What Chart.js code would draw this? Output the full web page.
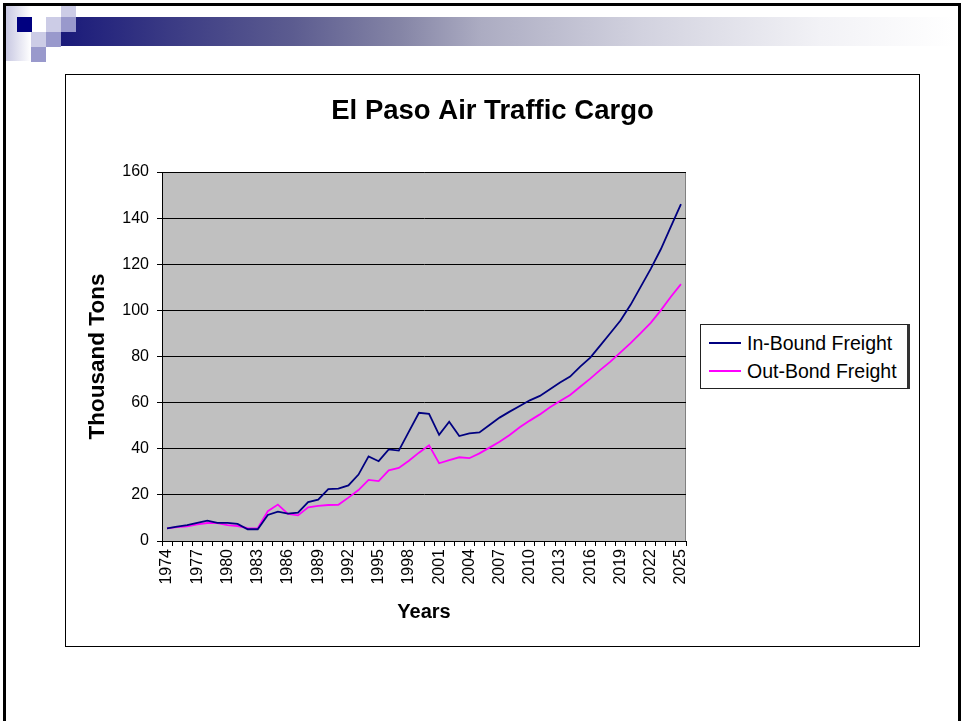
<!DOCTYPE html>
<html>
<head>
<meta charset="utf-8">
<script src="https://cdn.jsdelivr.net/npm/chart.js@4.4.1/dist/chart.umd.min.js"></script>
<style>
  body { margin: 0; width: 961px; height: 721px; background: #fff; overflow: hidden; position: relative; font-family: "Liberation Sans", Arial, sans-serif; }
  .frame { position: absolute; left: 3px; top: 3px; width: 952px; height: 730px; border: 3px solid #000; border-bottom: none; }
  .strip { position: absolute; left: 6px; top: 6px; width: 25px; height: 55px; background: linear-gradient(to right, #c8c8e2, #fff); }
  .bar { position: absolute; left: 61px; top: 17px; width: 894px; height: 29px;
         background: linear-gradient(to right, #1a1a7a 0%, #3a3a84 12%, #5c5c90 26%, #8585a6 38%, #acacc2 47%, #d2d2df 65%, #f2f2f6 85%, #fff 100%); }
  .sq { position: absolute; width: 15px; height: 15px; }
  .box { position: absolute; left: 65px; top: 74px; width: 853px; height: 571px; border: 1px solid #000; }
  canvas { position: absolute; left: 66px; top: 75px; }
  .legend { position: absolute; left: 700px; top: 324px; width: 206px; height: 63px; border: 1px solid #222; border-right: 3px solid #333; background: #fff; }
  .legend div { position: absolute; left: 8px; height: 22px; font-size: 19.5px; line-height: 22px; color: #000; white-space: nowrap; }
  .legend span { display: inline-block; width: 32px; height: 0; border-top: 2px solid; vertical-align: middle; margin-right: 6px; position: relative; top: -2px; }
</style>
</head>
<body>
<div class="frame"></div>
<div class="strip"></div>
<div class="bar"></div>
<div class="sq" style="left:17px;top:17px;background:#000080"></div>
<div class="sq" style="left:46px;top:17px;background:#ccccE6"></div>
<div class="sq" style="left:61px;top:6px;height:11px;background:#ccccE6"></div>
<div class="sq" style="left:61px;top:17px;background:#9999cc"></div>
<div class="sq" style="left:31px;top:32px;background:#ccccE6"></div>
<div class="sq" style="left:46px;top:32px;background:#9999cc"></div>
<div class="sq" style="left:31px;top:47px;background:#9999cc"></div>
<div class="box"></div>
<canvas id="grafico" width="853" height="571"></canvas>
<div class="legend" id="legenda"></div>
<script>
// anos e valores (mil toneladas)
const anos = [];
for (let a = 1974; a <= 2025; a++) anos.push(String(a));

const entrada = [
  5.5, 6.2, 6.9, 7.9, 8.8, 7.9, 7.9, 7.4, 5.1, 5.1,
  11.3, 12.7, 11.9, 12.3, 16.9, 17.9, 22.5, 22.7, 24.1, 28.8,
  36.7, 34.6, 39.7, 39.2, 47.4, 55.6, 55.1, 46.0, 51.7, 45.5,
  46.7, 47.1, 50.3, 53.5, 56.1, 58.5, 61.0, 62.9, 65.8, 68.7,
  71.3, 75.6, 79.5, 84.8, 90.2, 95.6, 102.4, 110.2, 118.0, 126.5,
  136.3, 146.1
];
const saida = [
  5.5, 6.0, 6.3, 7.2, 7.8, 7.8, 6.9, 6.5, 5.6, 5.5,
  12.9, 15.8, 11.7, 11.1, 14.6, 15.2, 15.6, 15.7, 18.8, 22.1,
  26.5, 26.0, 30.6, 31.7, 34.8, 38.3, 41.5, 33.7, 35.1, 36.3,
  35.9, 38.0, 40.5, 43.0, 46.0, 49.3, 52.2, 54.9, 58.0, 60.7,
  63.3, 66.9, 70.4, 74.2, 77.8, 81.8, 85.8, 90.1, 94.6, 100.0,
  105.9, 111.4
];
const rotulos = ['In-Bound Freight', 'Out-Bond Freight'];
const cores = ['#000080', '#ff00ff'];
const ticksY = [0, 20, 40, 60, 80, 100, 120, 140, 160];

const fonte = '"Liberation Sans", Arial, sans-serif';

// fundo cinza da area do grafico
const fundoPlot = {
  id: 'fundoPlot',
  beforeDraw(chart) {
    const { ctx, chartArea: a } = chart;
    ctx.save();
    ctx.fillStyle = '#c0c0c0';
    ctx.fillRect(a.left, a.top, a.right - a.left, a.bottom - a.top);
    ctx.strokeStyle = '#808080';
    ctx.lineWidth = 1;
    ctx.strokeRect(a.left + 0.5, a.top + 0.5, a.right - a.left - 1, a.bottom - a.top);
    ctx.restore();
  }
};

const chart = new Chart(document.getElementById('grafico'), {
  type: 'line',
  data: {
    labels: anos,
    datasets: [
      { label: rotulos[0], data: entrada, borderColor: cores[0], borderWidth: 1.8, pointRadius: 0, tension: 0 },
      { label: rotulos[1], data: saida, borderColor: cores[1], borderWidth: 1.8, pointRadius: 0, tension: 0 }
    ]
  },
  options: {
    responsive: false,
    animation: false,
    devicePixelRatio: 1,
    layout: { padding: 0 },
    plugins: {
      legend: { display: false },
      tooltip: { enabled: false },
      title: {
        display: true,
        text: 'El Paso Air Traffic Cargo',
        color: '#000',
        font: { family: fonte, size: 27.5, weight: 'bold' },
        padding: { top: 20, bottom: 44 }
      }
    },
    scales: {
      x: {
        offset: true,
        grid: { offset: true, drawOnChartArea: false, drawTicks: true, tickLength: 5, color: '#000' },
        border: { color: '#000', width: 1 },
        ticks: {
          autoSkip: false, maxRotation: 90, minRotation: 90, padding: 3, color: '#000',
          font: { family: fonte, size: 16 },
          callback: (v, i) => (i % 3 === 0 ? anos[i] : '')
        },
        title: { display: true, text: 'Years', color: '#000', font: { family: fonte, size: 20, weight: 'bold' }, padding: { top: 0, bottom: 22 } },
        afterFit(s) { s.height = 105; }
      },
      y: {
        min: 0, max: 160,
        grid: { color: '#000', lineWidth: 1, tickLength: 5 },
        border: { color: '#000', width: 1 },
        afterBuildTicks(s) { s.ticks = ticksY.map(v => ({ value: v })); },
        ticks: { padding: 8, color: '#000', font: { family: fonte, size: 16 } },
        title: { display: true, text: 'Thousand Tons', color: '#000', font: { family: fonte, size: 22.5, weight: 'bold' }, padding: { top: 18, bottom: 0 } },
        afterFit(s) { s.width = 96; }
      },
      direita: {
        type: 'linear', position: 'right', display: true,
        grid: { display: false }, border: { display: false }, ticks: { display: false },
        afterFit(s) { s.width = 233; }
      }
    }
  },
  plugins: [fundoPlot]
});

// legenda em caixa, como no original
const leg = document.getElementById('legenda');
chart.data.datasets.forEach((ds, i) => {
  const d = document.createElement('div');
  d.style.top = (7 + i * 28) + 'px';
  d.innerHTML = '<span style="border-color:' + ds.borderColor + '"></span>' + ds.label;
  leg.appendChild(d);
});
</script>
</body>
</html>
